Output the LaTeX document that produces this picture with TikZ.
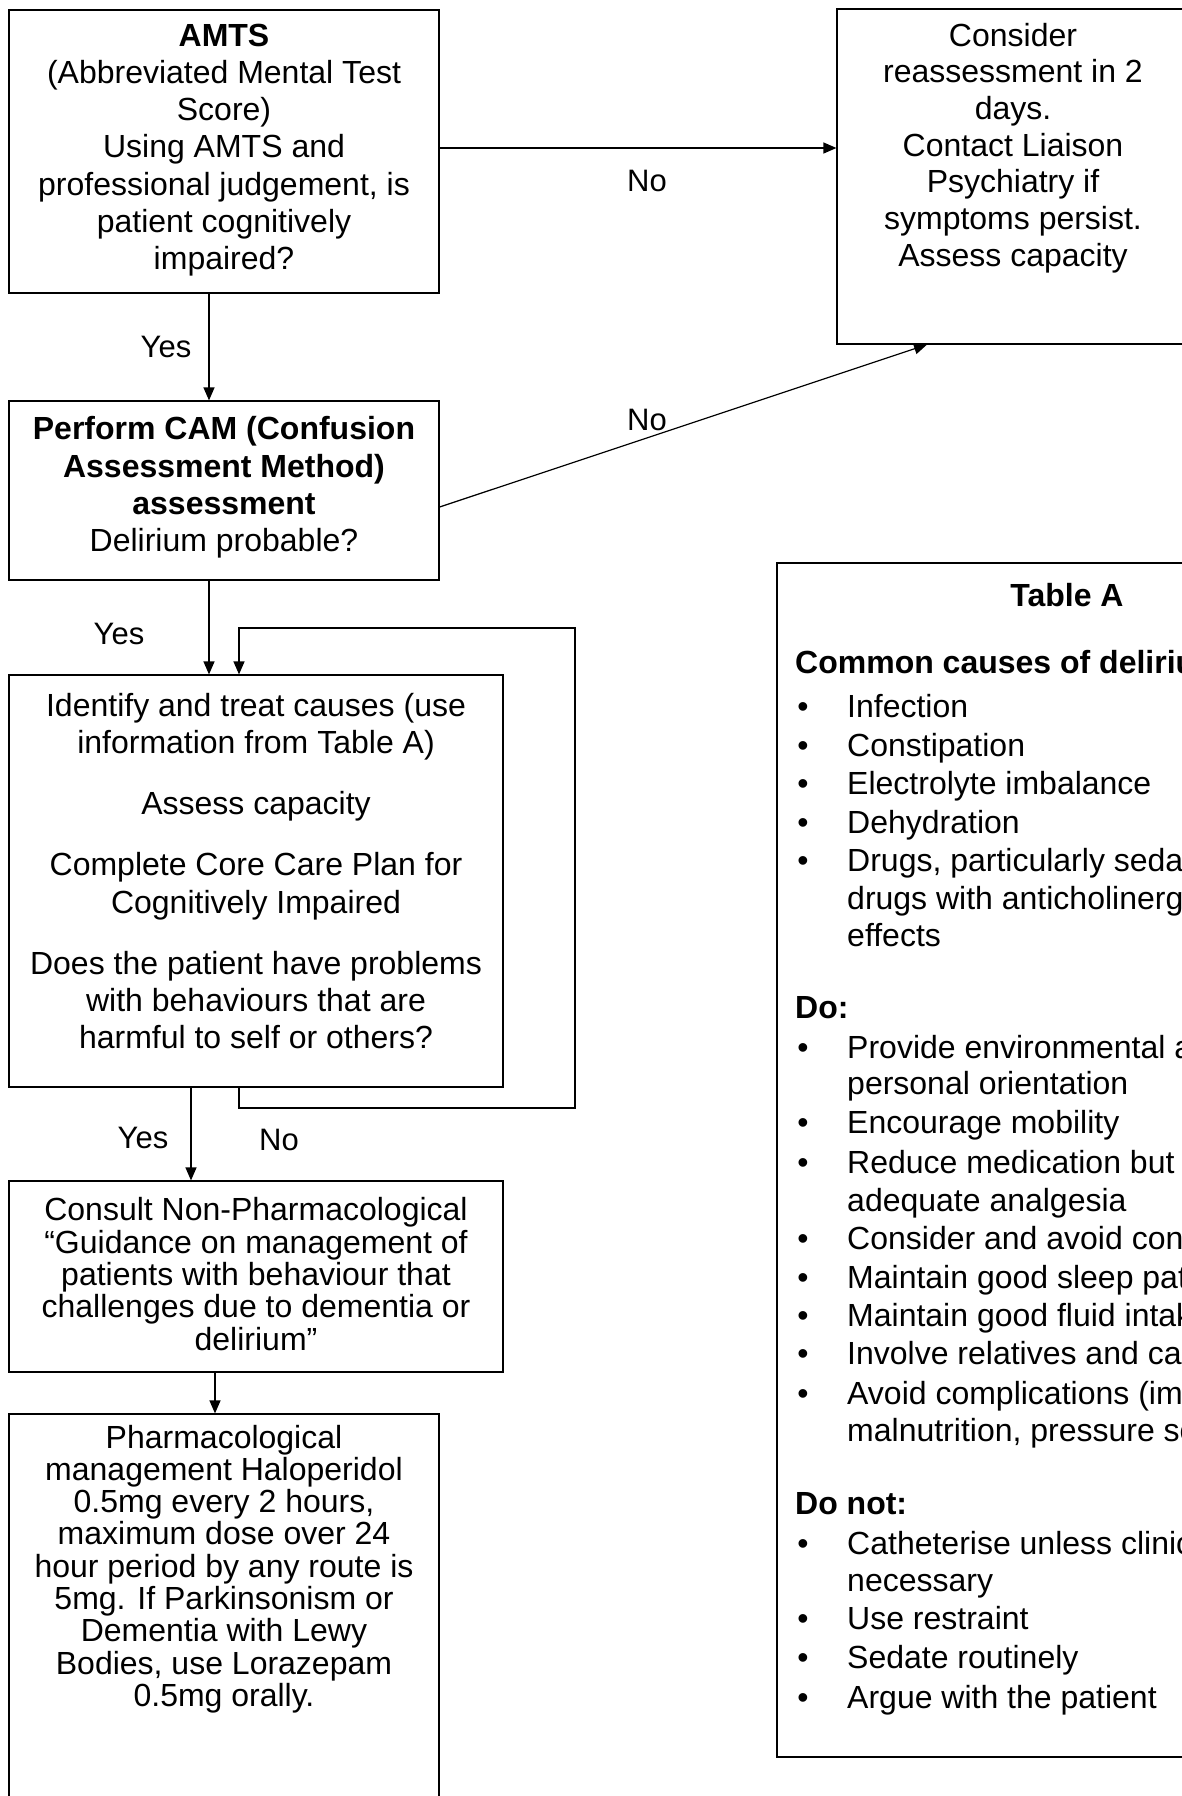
\documentclass[tikz,border=0pt]{standalone}
\usepackage{fontspec}
\setmainfont{Liberation Sans}
\usetikzlibrary{arrows.meta,calc}
\tikzset{
  box/.style={draw=black, line width=1.2pt, rectangle, inner sep=0pt},
  txt/.style={align=center, inner sep=0pt, font=\fontsize{32}{37.2}\selectfont},
  txtb/.style={align=center, inner sep=0pt, font=\fontsize{32}{36.7}\selectfont},
  txtc/.style={align=center, inner sep=0pt, font=\fontsize{32}{32.3}\selectfont},
  lbl/.style={inner sep=0pt, font=\fontsize{31}{36}\selectfont},
  arr/.style={line width=1.2pt, -{Triangle[length=13pt,width=11pt]}},
  tabtxt/.style={anchor=base west, inner sep=0pt, font=\fontsize{32}{38}\selectfont},
  tabhead/.style={anchor=base west, inner sep=0pt, font=\fontsize{32}{38}\selectfont\bfseries},
  tabbul/.style={anchor=base, inner sep=0pt, font=\fontsize{32}{38}\selectfont},
}
\newcommand\tabitem[3]{\node[tabbul] (#1b) at (803,#2+11) {•};\node[tabtxt] (#1) at (847,#2+11) {#3};}
\newcommand\tabcont[3]{\node[tabtxt] (#1) at (847,#2+11) {#3};}
\newcommand\tabhd[3]{\node[tabhead] (#1) at (795,#2+11) {#3};}
\begin{document}
\begin{tikzpicture}[x=1pt,y=-1pt]
\useasboundingbox (0,0) rectangle (1182,1796);
\clip (0,0) rectangle (1182,1796);
\fill[white] (0,0) rectangle (1182,1796);

% boxes
\node[box, minimum width=430pt, minimum height=283pt] (amts) at (224,151.5) {};
\node[box, minimum width=352pt, minimum height=335pt] (consider) at (1013,176.5) {};
\node[box, minimum width=430pt, minimum height=179pt] (cam) at (224,490.5) {};
\node[box, minimum width=494pt, minimum height=412pt] (ident) at (256,881) {};
\node[box, minimum width=494pt, minimum height=191pt] (consult) at (256,1276.5) {};
\node[box, minimum width=430pt, minimum height=406pt] (pharm) at (224,1617) {};
\node[box, minimum width=580pt, minimum height=1194pt] (tablea) at (1067,1160) {};

% texts
\node[txt] (amtsT) at (224,150) {\textbf{AMTS}\\(Abbreviated Mental Test\\Score)\\Using AMTS and\\professional judgement, is\\patient cognitively\\impaired?};
\node[txtb] (considerT) at (1013,148) {Consider\\reassessment in 2\\days.\\Contact Liaison\\Psychiatry if\\symptoms persist.\\Assess capacity};
\node[txt] (camT) at (224,487.5) {\textbf{Perform CAM (Confusion}\\\textbf{Assessment Method)}\\\textbf{assessment}\\Delirium probable?};
\node[txt] (identT) at (256,871) {Identify and treat causes (use\\information from Table A)\\[24pt]Assess capacity\\[24pt]Complete Core Care Plan for\\Cognitively Impaired\\[24pt]Does the patient have problems\\with behaviours that are\\harmful to self or others?};
\node[txtc] (consultT) at (256,1274) {Consult Non-Pharmacological\\“Guidance on management of\\patients with behaviour that\\challenges due to dementia or\\delirium”};
\node[txtc] (pharmT) at (224,1569) {Pharmacological\\management Haloperidol\\0.5mg every 2 hours,\\maximum dose over 24\\hour period by any route is\\5mg. If Parkinsonism or\\Dementia with Lewy\\Bodies, use Lorazepam\\0.5mg orally.};

% table A
\node[anchor=base, inner sep=0pt, font=\fontsize{32}{38}\selectfont\bfseries] (tatitle) at (1067,606) {Table A};
\tabhd{hcause}{662}{Common causes of deliriu}
\tabitem{c1}{706}{Infection}
\tabitem{c2}{745}{Constipation}
\tabitem{c3}{783}{Electrolyte imbalance}
\tabitem{c4}{822}{Dehydration}
\tabitem{c5}{860}{Drugs, particularly seda}
\tabcont{c5b}{898}{drugs with anticholinerg}
\tabcont{c5c}{935}{effects}
\tabhd{hdo}{1007}{Do:}
\tabitem{d1}{1047}{Provide environmental a}
\tabcont{d1b}{1083}{personal orientation}
\tabitem{d2}{1122}{Encourage mobility}
\tabitem{d3}{1162}{Reduce medication but}
\tabcont{d3b}{1200}{adequate analgesia}
\tabitem{d4}{1238}{Consider and avoid con}
\tabitem{d5}{1277}{Maintain good sleep pat}
\tabitem{d6}{1315}{Maintain good fluid intak}
\tabitem{d7}{1353}{Involve relatives and ca}
\tabitem{d8}{1393}{Avoid complications (im}
\tabcont{d8b}{1430}{malnutrition, pressure so}
\tabhd{hdont}{1503}{Do not:}
\tabitem{n1}{1543}{Catheterise unless clinic}
\tabcont{n1b}{1580}{necessary}
\tabitem{n2}{1618}{Use restraint}
\tabitem{n3}{1657}{Sedate routinely}
\tabitem{n4}{1697}{Argue with the patient}

% connectors
\draw[arr] ([yshift=3.5pt]amts.east) -- ([yshift=3.5pt]amts.east -| consider.west);
\draw[arr] ([xshift=-15pt]amts.south) -- ([xshift=-15pt]amts.south |- cam.north);
\draw[arr] ([yshift=-16.5pt]cam.east) -- ([xshift=-86pt]consider.south);
\draw[arr] ([xshift=-15pt]cam.south) -- ([xshift=-15pt]cam.south |- ident.north);
\coordinate (loopBR) at (575,1108);
\coordinate (loopTR) at (575,628);
\draw[arr] ([xshift=-17pt]ident.south) |- (loopBR) -- (loopTR) -| ([xshift=-17pt]ident.north);
\draw[arr] ([xshift=-65pt]ident.south) -- ([xshift=-65pt]ident.south |- consult.north);
\draw[arr] ([xshift=-41pt]consult.south) -- ([xshift=-41pt]consult.south |- pharm.north);

% labels
\node[lbl] (no1) at (647,181) {No};
\node[lbl] (yes1) at (166,347) {Yes};
\node[lbl] (no2) at (647,420) {No};
\node[lbl] (yes2) at (119,634) {Yes};
\node[lbl] (yes3) at (143,1138) {Yes};
\node[lbl] (no3) at (279,1140) {No};
\end{tikzpicture}
\end{document}
